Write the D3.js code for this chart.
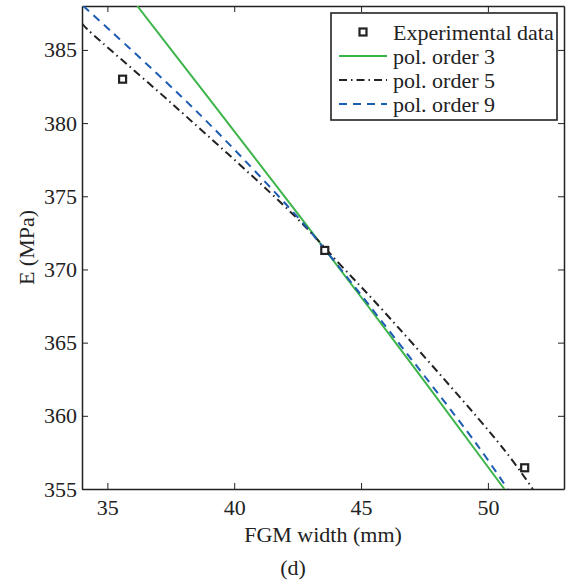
<!DOCTYPE html>
<html>
<head>
<meta charset="utf-8">
<script src="https://cdn.jsdelivr.net/npm/d3@7"></script>
<style>
  body { margin: 0; background: #fff; }
  svg text { font-family: "Liberation Serif", "Times New Roman", Times, "DejaVu Serif", serif; fill: #222; }
</style>
</head>
<body>
<div id="chart"></div>
<script>
// measured points (FGM width mm, E MPa)
const expWidth = [35.6, 43.57, 51.45];
const expE = [383.0, 371.3, 356.45];

// fitted curves
const order3X = [36.18, 39.04, 42.58, 43.57, 46.52, 49.47, 50.65];
const order3Y = [388.0, 381.6, 373.65, 371.38, 364.63, 357.75, 355.0];
const order5X = [34.0, 34.21, 37.59, 42.45, 44.16, 45.93, 50.59, 51.77];
const order5Y = [386.8, 386.41, 381.26, 373.54, 370.36, 367.07, 357.8, 355.0];
const order9X = [34.05, 38.52, 42.52, 43.57, 45.8, 49.54, 50.78];
const order9Y = [388.0, 380.8, 373.54, 371.38, 366.49, 358.1, 355.0];

const xTicks = [35, 40, 45, 50];
const yTicks = [355, 360, 365, 370, 375, 380, 385];

const W = 568, H = 586;
const margin = { top: 6, right: 4, bottom: 97, left: 82 };
const width = W - margin.left - margin.right,
      height = H - margin.top - margin.bottom;
const serif = '"Liberation Serif", "Times New Roman", Times, "DejaVu Serif", serif';

const svg = d3.select("#chart").append("svg")
  .attr("width", W).attr("height", H)
  .attr("font-family", serif);

const g = svg.append("g")
  .attr("transform", `translate(${margin.left},${margin.top})`);

const x = d3.scaleLinear().domain([34, 53]).range([0, width]);
const y = d3.scaleLinear().domain([355, 388]).range([height, 0]);

g.append("clipPath").attr("id", "clip")
  .append("rect").attr("width", width).attr("height", height);

const tickLen = 6;
const fs = "22px";

// axes: bottom + left with labels, top + right mirrored without labels
const gx = g.append("g").attr("transform", `translate(0,${height})`)
  .call(d3.axisBottom(x).tickValues(xTicks).tickSizeInner(-tickLen).tickSizeOuter(0).tickPadding(7));
const gy = g.append("g")
  .call(d3.axisLeft(y).tickValues(yTicks).tickSizeInner(-tickLen).tickSizeOuter(0).tickPadding(5));
g.append("g")
  .call(d3.axisTop(x).tickValues(xTicks).tickSizeInner(-tickLen).tickSizeOuter(0).tickFormat(""));
g.append("g").attr("transform", `translate(${width},0)`)
  .call(d3.axisRight(y).tickValues(yTicks).tickSizeInner(-tickLen).tickSizeOuter(0).tickFormat(""));

g.selectAll("g").attr("font-family", serif);
g.selectAll(".domain").attr("stroke", "#222").attr("stroke-width", 1.5);
g.selectAll(".tick line").attr("stroke", "#222").attr("stroke-width", 1);
g.selectAll(".tick text").style("font-size", fs).attr("fill", "#222");
gx.selectAll(".tick text").attr("dy", "0.85em");

// curves
const line = d3.line().x(d => x(d[0])).y(d => y(d[1])).curve(d3.curveCatmullRom);
const curves = [
  { xs: order3X, ys: order3Y, color: "#3db54a", dash: null },
  { xs: order5X, ys: order5Y, color: "#222222", dash: "8,4,1.5,4" },
  { xs: order9X, ys: order9Y, color: "#1e5cb3", dash: "8,6" }
];
const cg = g.append("g").attr("clip-path", "url(#clip)");
curves.forEach(c => {
  cg.append("path")
    .datum(c.xs.map((v, i) => [v, c.ys[i]]))
    .attr("d", line)
    .attr("fill", "none")
    .attr("stroke", c.color)
    .attr("stroke-width", 2)
    .attr("stroke-dasharray", c.dash);
});

// experimental squares
g.selectAll("rect.pt")
  .data(expWidth.map((v, i) => [v, expE[i]]))
  .enter().append("rect")
  .attr("class", "pt")
  .attr("x", d => x(d[0]) - 3.5)
  .attr("y", d => y(d[1]) - 3.5)
  .attr("width", 7).attr("height", 7)
  .attr("fill", "#fff")
  .attr("stroke", "#222")
  .attr("stroke-width", 2.2);

// axis titles
svg.append("text")
  .attr("x", margin.left + width / 2)
  .attr("y", 542)
  .attr("text-anchor", "middle")
  .style("font-size", fs)
  .text("FGM width (mm)");

svg.append("text")
  .attr("transform", `translate(34,${margin.top + height / 2}) rotate(-90)`)
  .attr("text-anchor", "middle")
  .style("font-size", fs)
  .text("E (MPa)");

svg.append("text")
  .attr("x", 293)
  .attr("y", 575)
  .attr("text-anchor", "middle")
  .style("font-size", fs)
  .text("(d)");

// legend
const legendItems = [
  { label: "Experimental data", type: "square" },
  { label: "pol. order 3", color: curves[0].color, dash: null },
  { label: "pol. order 5", color: curves[1].color, dash: curves[1].dash },
  { label: "pol. order 9", color: curves[2].color, dash: curves[2].dash }
];
const lg = svg.append("g").attr("transform", "translate(331,13)");
lg.append("rect")
  .attr("width", 226).attr("height", 107)
  .attr("fill", "#fff").attr("stroke", "#222").attr("stroke-width", 1.6);

legendItems.forEach((d, i) => {
  const cy = 19 + i * 24;
  if (d.type === "square") {
    lg.append("rect")
      .attr("x", 32 - 3.5).attr("y", cy - 3.5)
      .attr("width", 7).attr("height", 7)
      .attr("fill", "#fff").attr("stroke", "#222").attr("stroke-width", 2.2);
  } else {
    lg.append("line")
      .attr("x1", 8).attr("x2", 56)
      .attr("y1", cy).attr("y2", cy)
      .attr("stroke", d.color).attr("stroke-width", 2)
      .attr("stroke-dasharray", d.dash);
  }
  lg.append("text")
    .attr("x", 62).attr("y", cy)
    .attr("dy", "0.35em")
    .style("font-size", fs)
    .text(d.label);
});
</script>
</body>
</html>
